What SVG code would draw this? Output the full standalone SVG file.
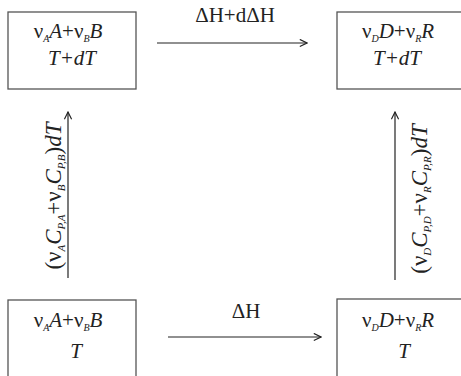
<svg xmlns="http://www.w3.org/2000/svg" width="461" height="376" viewBox="0 0 461 376">
<defs>
<marker id="ah" viewBox="0 0 10 10" refX="9" refY="5" markerWidth="9" markerHeight="9" markerUnits="userSpaceOnUse" orient="auto">
<path d="M1,1 L9,5 L1,9" fill="none" stroke="#222" stroke-width="1.3"/>
</marker>
<style>
.box{fill:#fff;stroke:#555;stroke-width:1.3}
.t{font-family:"Liberation Serif","Times New Roman",serif;font-size:21px;fill:#222;text-anchor:middle}
.v{font-size:23px}
.i{font-style:italic}
.s{font-size:10px;font-style:italic}
.v .s{font-size:11px}
.line{stroke:#222;stroke-width:1.2;fill:none}
</style>
</defs>
<rect width="461" height="376" fill="#fff"/>
<g id="n1">
<rect class="box" x="8" y="12" width="128" height="77"/>
<text class="t" x="68" y="38">ν<tspan class="s" dy="4">A</tspan><tspan class="i" dy="-4">A</tspan>+ν<tspan class="s" dy="4">B</tspan><tspan class="i" dy="-4">B</tspan></text>
<text class="t i" x="72" y="65">T+dT</text>
</g>
<g id="n2">
<rect class="box" x="337" y="12" width="130" height="77"/>
<text class="t" x="398" y="38">ν<tspan class="s" dy="4">D</tspan><tspan class="i" dy="-4">D</tspan>+ν<tspan class="s" dy="4">R</tspan><tspan class="i" dy="-4">R</tspan></text>
<text class="t i" x="397" y="65">T+dT</text>
</g>
<g id="n3">
<rect class="box" x="8" y="300" width="128" height="80"/>
<text class="t" x="68" y="327">ν<tspan class="s" dy="4">A</tspan><tspan class="i" dy="-4">A</tspan>+ν<tspan class="s" dy="4">B</tspan><tspan class="i" dy="-4">B</tspan></text>
<text class="t i" x="76" y="358">T</text>
</g>
<g id="n4">
<rect class="box" x="337" y="299" width="130" height="80"/>
<text class="t" x="398" y="327">ν<tspan class="s" dy="4">D</tspan><tspan class="i" dy="-4">D</tspan>+ν<tspan class="s" dy="4">R</tspan><tspan class="i" dy="-4">R</tspan></text>
<text class="t i" x="404" y="358">T</text>
</g>
<g id="connectors">
<line class="line" x1="157" y1="43" x2="307" y2="43" marker-end="url(#ah)"/>
<text class="t" x="235" y="22">ΔH+dΔH</text>
<line class="line" x1="168" y1="337" x2="321" y2="337" marker-end="url(#ah)"/>
<text class="t" x="246" y="318">ΔH</text>
<line class="line" x1="68" y1="278" x2="68" y2="112" marker-end="url(#ah)"/>
<text class="t v" transform="translate(61,196) rotate(-90)">(ν<tspan class="s" dy="4">A</tspan><tspan class="i" dy="-4">C</tspan><tspan class="s" dy="4">P,A</tspan><tspan dy="-4">+ν</tspan><tspan class="s" dy="4">B</tspan><tspan class="i" dy="-4">C</tspan><tspan class="s" dy="4">P,B</tspan><tspan dy="-4">)</tspan><tspan class="i">dT</tspan></text>
<line class="line" x1="395" y1="280" x2="395" y2="112" marker-end="url(#ah)"/>
<text class="t v" transform="translate(427,199) rotate(-90)">(ν<tspan class="s" dy="4">D</tspan><tspan class="i" dy="-4">C</tspan><tspan class="s" dy="4">P,D</tspan><tspan dy="-4">+ν</tspan><tspan class="s" dy="4">R</tspan><tspan class="i" dy="-4">C</tspan><tspan class="s" dy="4">P,R</tspan><tspan dy="-4">)</tspan><tspan class="i">dT</tspan></text>
</g>
</svg>
